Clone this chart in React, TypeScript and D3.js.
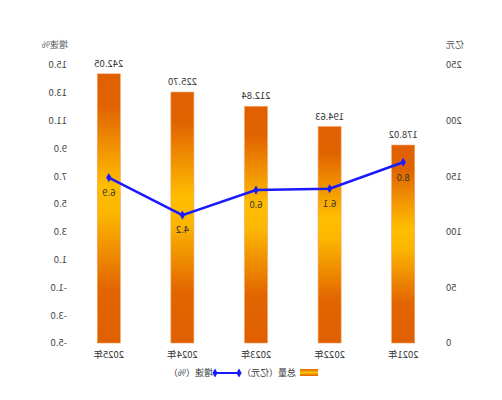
import React from "react";
import * as d3 from "d3";

const categories = ["2021年", "2022年", "2023年", "2024年", "2025年"];
const totals = [178.02, 194.63, 212.84, 225.7, 242.05];
const growth = [8.0, 6.1, 6.0, 4.2, 6.9];
const leftTicks = [0, 50, 100, 150, 200, 250];
const rightTicks = [-5, -3, -1, 1, 3, 5, 7, 9, 11, 13, 15];

const W = 502;
const H = 400;
const FONT = "'Noto Sans CJK SC', 'Noto Sans', sans-serif";

export default function App() {
  const x = d3.scaleBand<string>().domain(categories).range([62, 430]);
  const yL = d3.scaleLinear().domain([0, 250]).range([343, 65]);
  const yR = d3.scaleLinear().domain([-5, 15]).range([343, 65]);
  const barW = 23;
  const cx = (c: string) => (x(c) as number) + x.bandwidth() / 2;
  const line = d3
    .line<number>()
    .x((_, i) => cx(categories[i]))
    .y((d) => yR(d));
  const diamond = d3.symbol().type(d3.symbolDiamond).size(24)();

  return (
    <svg
      width={W}
      height={H}
      style={{ position: "absolute", left: 0, top: 0, background: "#fff" }}
      fontFamily={FONT}
    >
      <defs>
        <linearGradient id="barGrad" x1="0" y1="0" x2="0" y2="1">
          <stop offset="0%" stopColor="#E06000" />
          <stop offset="12%" stopColor="#E16300" />
          <stop offset="42%" stopColor="#FFBE00" />
          <stop offset="52%" stopColor="#FCB600" />
          <stop offset="80%" stopColor="#E26500" />
          <stop offset="100%" stopColor="#E06000" />
        </linearGradient>
        <linearGradient id="legGrad" x1="0" y1="0" x2="0" y2="1">
          <stop offset="0%" stopColor="#E06000" />
          <stop offset="50%" stopColor="#FFC000" />
          <stop offset="100%" stopColor="#E06000" />
        </linearGradient>
      </defs>
      <g transform={`translate(${W},0) scale(-1,1)`}>
        {/* left axis */}
        <text x={56} y={48} fontSize={9} fill="#555" textAnchor="end">
          亿元
        </text>
        {leftTicks.map((t) => (
          <text key={t} x={56} y={yL(t)} dy="0.35em" fontSize={9.5} fill="#444" textAnchor="end">
            {t}
          </text>
        ))}
        {/* right axis */}
        <text x={434} y={48} fontSize={9} fill="#555" textAnchor="start">
          增速%
        </text>
        {rightTicks.map((t) => (
          <text key={t} x={435} y={yR(t)} dy="0.35em" fontSize={9.5} fill="#444" textAnchor="start">
            {t.toFixed(1)}
          </text>
        ))}
        {/* bars */}
        {categories.map((c, i) => (
          <g key={c}>
            <rect
              x={cx(c) - barW / 2}
              y={yL(totals[i])}
              width={barW}
              height={yL(0) - yL(totals[i])}
              fill="url(#barGrad)"
              stroke="#F3A060"
              strokeWidth={0.6}
            />
            <text x={cx(c)} y={yL(totals[i]) - 7} fontSize={9.5} fill="#333" textAnchor="middle">
              {totals[i].toFixed(2)}
            </text>
            <text x={cx(c)} y={355} dy="0.35em" fontSize={9.5} fill="#333" textAnchor="middle">
              {c}
            </text>
          </g>
        ))}
        {/* line */}
        <path d={line(growth) || ""} fill="none" stroke="#1a1aff" strokeWidth={2.5} />
        {growth.map((g, i) => (
          <g key={i}>
            <path d={diamond || ""} transform={`translate(${cx(categories[i])},${yR(g)})`} fill="#1a1aff" />
            <text x={cx(categories[i])} y={yR(g) + 15} dy="0.35em" fontSize={9.5} fill="#333" textAnchor="middle">
              {g.toFixed(1)}
            </text>
          </g>
        ))}
        {/* legend */}
        <rect x={184} y={369} width={18} height={7} fill="url(#legGrad)" />
        <line x1={184} x2={202} y1={372.5} y2={372.5} stroke="#FFC000" strokeWidth={1} />
        <text x={206} y={373} dy="0.35em" fontSize={9} fill="#333">
          总量（亿元）
        </text>
        <line x1={263} x2={287} y1={373} y2={373} stroke="#1a1aff" strokeWidth={2} />
        <path d={diamond || ""} transform="translate(263,373)" fill="#1a1aff" />
        <path d={diamond || ""} transform="translate(287,373)" fill="#1a1aff" />
        <text x={289} y={373} dy="0.35em" fontSize={9} fill="#333">
          增速（%）
        </text>
      </g>
    </svg>
  );
}
